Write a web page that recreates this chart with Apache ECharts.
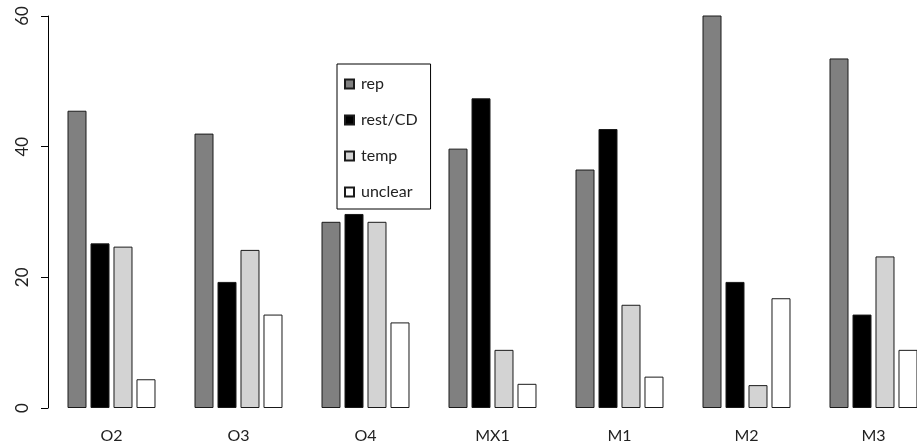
<!DOCTYPE html>
<html>
<head>
<meta charset="utf-8">
<script src="https://cdn.jsdelivr.net/npm/echarts@6/dist/echarts.min.js"></script>
<style>
html,body{margin:0;padding:0;background:#fff;}
#chart{width:917px;height:448px;}
</style>
</head>
<body>
<div id="chart"></div>
<script>
const categories = ['O2', 'O3', 'O4', 'MX1', 'M1', 'M2', 'M3'];
const rep      = [45.5, 42.0, 28.5, 39.7, 36.5, 65.0, 53.5];
const restCD   = [25.2, 19.3, 29.7, 47.4, 42.7, 19.3, 14.3];
const temp     = [24.7, 24.2, 28.5, 8.9, 15.8, 3.5, 23.2];
const unclear  = [4.4, 14.3, 13.1, 3.7, 4.8, 16.8, 8.9];
const yTicks   = [0, 20, 40, 60];

const FONT = 'Lato, "Open Sans", sans-serif';
const seriesDefs = [
  {name: 'rep', data: rep, color: '#808080'},
  {name: 'rest/CD', data: restCD, color: '#000000'},
  {name: 'temp', data: temp, color: '#d3d3d3'},
  {name: 'unclear', data: unclear, color: '#ffffff'}
];

const chart = echarts.init(document.getElementById('chart'), null, {renderer: 'canvas'});
chart.setOption({
  animation: false,
  backgroundColor: '#ffffff',
  grid: {left: 48, top: 16, bottom: 40, width: 889, containLabel: false, outerBoundsMode: 'none'},
  legend: {
    orient: 'vertical',
    left: 337, top: 64,
    padding: [12, 13, 9, 7],
    borderColor: '#000', borderWidth: 1,
    backgroundColor: '#fff',
    itemWidth: 9, itemHeight: 9, itemGap: 20,
    icon: 'rect',
    textStyle: {fontFamily: FONT, fontSize: 16, color: '#222', padding: [0, 0, 0, 2]},
    data: seriesDefs.map(s => s.name)
  },
  xAxis: {
    type: 'category',
    data: categories,
    axisLine: {show: false},
    axisTick: {show: false},
    axisLabel: {fontFamily: FONT, fontSize: 16, color: '#222', margin: 20},
    splitLine: {show: false}
  },
  yAxis: {
    type: 'value',
    min: yTicks[0], max: yTicks[yTicks.length - 1], interval: 20,
    axisLine: {show: true, lineStyle: {color: '#000', width: 1}},
    axisTick: {show: true, length: 7, lineStyle: {color: '#000'}},
    axisLabel: {rotate: 90, fontFamily: FONT, fontSize: 17, color: '#222', margin: 17},
    splitLine: {show: false}
  },
  series: seriesDefs.map(s => ({
    type: 'bar',
    name: s.name,
    data: s.data,
    barWidth: 19,
    barGap: '21%',
    clip: true,
    itemStyle: {color: s.color, borderColor: '#1a1a1a', borderWidth: 1}
  }))
});
</script>
</body>
</html>
